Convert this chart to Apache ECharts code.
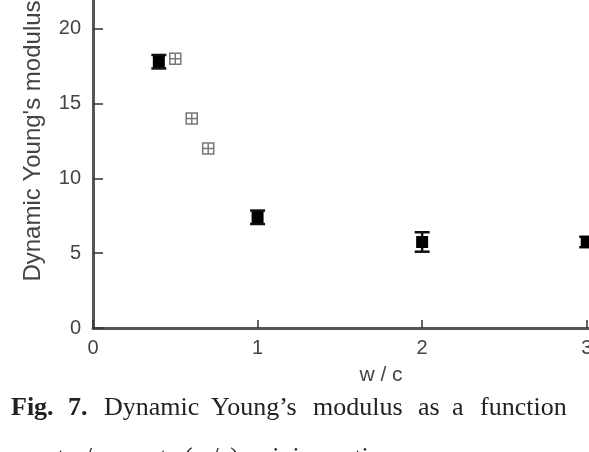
<!DOCTYPE html>
<html>
<head>
<meta charset="utf-8">
<script src="https://cdn.jsdelivr.net/npm/echarts@6/dist/echarts.min.js"></script>
<style>
  html, body { margin: 0; padding: 0; background: #fff; }
  #chart { width: 589px; height: 452px; }
</style>
</head>
<body>
<div id="chart"></div>
<script>
// measured samples (filled squares, with error bars)
const measuredWc = [0.4, 1.0, 2.0, 3.0];
const measuredE = [17.8, 7.4, 5.75, 5.75];
const measuredErr = [0.45, 0.45, 0.65, 0.35];

// reference values (open crossed squares)
const refWc = [0.5, 0.6, 0.7];
const refE = [18.0, 14.0, 12.0];

const xTicks = [0, 1, 2, 3];
const yTicks = [0, 5, 10, 15, 20];

const axisColor = '#555';
const textColor = '#444';

const chart = echarts.init(document.getElementById('chart'));

const errData = measuredWc.map((x, i) => [x, measuredE[i], measuredErr[i]]);
const measData = measuredWc.map((x, i) => [x, measuredE[i]]);
const refData = refWc.map((x, i) => [x, refE[i]]);

// caption words (justified line in the original)
const caption1 = [
  { t: 'Fig.', x: 11, bold: true },
  { t: '7.', x: 68, bold: true },
  { t: 'Dynamic', x: 104 },
  { t: 'Young\u2019s', x: 211 },
  { t: 'modulus', x: 313 },
  { t: 'as', x: 418 },
  { t: 'a', x: 452 },
  { t: 'function', x: 480 }
];
const caption2 = [
  { t: 'water/cement', x: 27 },
  { t: '(w/c)', x: 184 },
  { t: 'mixing', x: 252 },
  { t: 'ratio.', x: 334 }
];

const captionText = (list, y) => list.map(w => ({
  type: 'text',
  left: w.x,
  top: y,
  style: {
    text: w.t,
    fontFamily: 'Liberation Serif',
    fontSize: 26,
    fontWeight: w.bold ? 'bold' : 'normal',
    fill: '#222'
  }
}));

const option = {
  backgroundColor: '#fff',
  animation: false,
  grid: {
    left: 93,
    right: -80,
    top: -46,
    bottom: 124,
    outerBoundsMode: 'none'
  },
  xAxis: {
    type: 'value',
    min: 0,
    max: 3.5,
    interval: 1,
    name: 'w / c',
    nameLocation: 'middle',
    nameGap: 37,
    nameTextStyle: { fontFamily: 'Liberation Sans', fontSize: 21, color: textColor },
    axisLine: { lineStyle: { color: axisColor, width: 3 } },
    axisTick: { inside: true, length: 8, lineStyle: { color: '#333', width: 1.5 } },
    axisLabel: {
      margin: 10,
      fontFamily: 'Liberation Sans',
      fontSize: 20,
      color: textColor,
      formatter: v => xTicks.includes(v) ? String(v) : ''
    },
    splitLine: { show: false }
  },
  yAxis: {
    type: 'value',
    min: 0,
    max: 25,
    interval: 5,
    name: 'Dynamic Young\'s modulus',
    nameLocation: 'middle',
    nameGap: 48,
    nameTextStyle: { fontFamily: 'Liberation Sans', fontSize: 24, color: textColor },
    axisLine: { lineStyle: { color: axisColor, width: 3 } },
    axisTick: { inside: true, length: 10, lineStyle: { color: '#333', width: 1.5 } },
    axisLabel: {
      margin: 12,
      fontFamily: 'Liberation Sans',
      fontSize: 20,
      color: textColor,
      formatter: v => yTicks.includes(v) ? String(v) : ''
    },
    splitLine: { show: false }
  },
  series: [
    {
      type: 'custom',
      data: errData,
      renderItem: (params, api) => {
        const x = api.value(0), y = api.value(1), e = api.value(2);
        const top = api.coord([x, y + e]);
        const bot = api.coord([x, y - e]);
        const hw = 7.5;
        const st = { stroke: '#111', lineWidth: 2.5 };
        return {
          type: 'group',
          children: [
            { type: 'line', shape: { x1: top[0], y1: top[1], x2: bot[0], y2: bot[1] }, style: st },
            { type: 'line', shape: { x1: top[0] - hw, y1: top[1], x2: top[0] + hw, y2: top[1] }, style: st },
            { type: 'line', shape: { x1: bot[0] - hw, y1: bot[1], x2: bot[0] + hw, y2: bot[1] }, style: st }
          ]
        };
      },
      z: 3
    },
    {
      type: 'scatter',
      data: measData,
      symbol: 'rect',
      symbolSize: 12,
      itemStyle: { color: '#000', opacity: 1 },
      z: 4
    },
    {
      type: 'custom',
      data: refData,
      renderItem: (params, api) => {
        const p = api.coord([api.value(0), api.value(1)]);
        const s = 5.5;
        const st = { stroke: '#777', lineWidth: 1.5, fill: null };
        return {
          type: 'group',
          children: [
            { type: 'rect', shape: { x: p[0] - s, y: p[1] - s, width: 2 * s, height: 2 * s }, style: { stroke: '#777', lineWidth: 1.5, fill: '#fff' } },
            { type: 'line', shape: { x1: p[0], y1: p[1] - s, x2: p[0], y2: p[1] + s }, style: st },
            { type: 'line', shape: { x1: p[0] - s, y1: p[1], x2: p[0] + s, y2: p[1] }, style: st }
          ]
        };
      },
      z: 5
    }
  ],
  graphic: [].concat(captionText(caption1, 395), captionText(caption2, 445))
};

chart.setOption(option);
</script>
</body>
</html>
